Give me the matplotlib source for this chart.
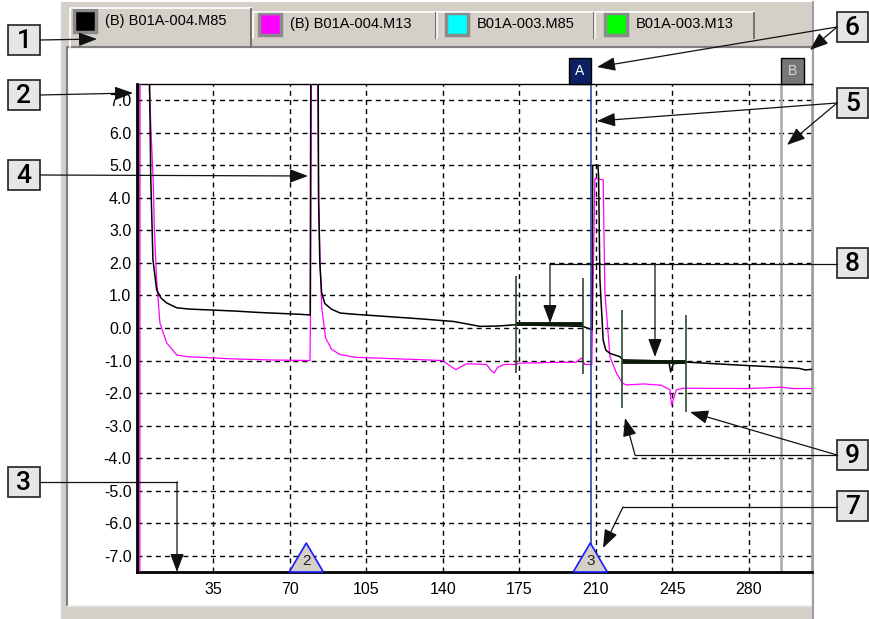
import numpy as np
import matplotlib
matplotlib.use('Agg')
import matplotlib.pyplot as plt
from matplotlib import font_manager as fm
from matplotlib.patches import Rectangle, Polygon

# trace data (x = position, y = value)
m85_x = [0, 0.6, 0.7, 5.5, 6.3, 7.3, 9.0, 11, 13.6, 18.2, 24.3, 35, 45, 55, 65, 75, 79.3,
         79.6, 82.9, 83.1, 83.7, 84.5, 86, 89, 93, 100, 115, 130, 145, 157, 165, 173.5,
         204.2, 206, 208.3, 208.6, 211.0, 211.3, 211.9, 213.4, 214.6, 216.5, 221, 222.5,
         235, 243.5, 244.3, 245.5, 252, 265, 275.5, 293, 303, 306, 309]
m85_y = [-9, -9, 9, 9, 4.6, 2.1, 1.17, 0.92, 0.77, 0.62, 0.58, 0.55, 0.52, 0.48, 0.45, 0.42, 0.4,
         9, 9, 4.0, 2.0, 1.1, 0.75, 0.58, 0.46, 0.42, 0.35, 0.28, 0.2, 0.05, 0.06, 0.1,
         0.05, 0.0, -0.05, 5.0, 5.0, 4.66, 1.5, -0.37, -0.68, -0.78, -0.88, -0.98,
         -1.0, -1.05, -1.35, -1.1, -1.05, -1.1, -1.14, -1.2, -1.24, -1.29, -1.27]

m13_x = [0, 1.3, 1.4, 4.6, 7.5, 7.9, 9.0, 10.5, 13.6, 18.2, 22.7, 44, 60, 79.2, 79.4, 79.9,
         82.5, 83.2, 83.8, 84.6, 86.3, 89, 93, 100, 120, 140, 143, 146, 148, 151, 160, 162,
         163.5, 165, 168, 173.5, 175, 190, 201, 203.5, 205, 208.2, 209.6, 213.4, 214.2,
         216.5, 219.5, 222.3, 224, 232, 240, 244.0, 244.7, 246.9, 250, 280, 295, 300, 309]
m13_y = [-9, -9, 9, 9, 4.35, 3.1, 1.48, 0.15, -0.46, -0.83, -0.88, -0.95, -0.98, -1.0, 0.25, 9,
         9, 4.0, 2.0, 0.6, -0.3, -0.65, -0.82, -0.9, -0.95, -1.0, -1.15, -1.28, -1.2, -1.1, -1.12, -1.3,
         -1.38, -1.22, -1.12, -1.12, -1.08, -1.06, -1.05, -0.92, -1.12, -1.12, 4.6, 4.55, 1.1,
         -0.88, -1.39, -1.7, -1.75, -1.72, -1.76, -1.9, -2.37, -1.9, -1.85, -1.86, -1.82, -1.86, -1.86]

# measurement regions (start, end, level) and their marker lines
region_start = [173.5, 222.2]
region_end = [204.2, 251.1]
region_level = [0.12, -1.03]
marker_x = [173.5, 204.2, 222.2, 251.1]
marker_low = [-1.38, -1.42, -2.46, -2.57]
marker_high = [1.6, 1.54, 0.55, 0.4]

cursor_a = 207.8
cursor_b = 295.0
event_x = [77.5, 207.5]
event_labels = ['2', '3']

x_ticks = [35, 70, 105, 140, 175, 210, 245, 280]
y_ticks = list(range(-7, 8))

tab_labels = ['(B) B01A-004.M85', '(B) B01A-004.M13', 'B01A-003.M85', 'B01A-003.M13']
tab_colors = ['#000000', '#ff00ff', '#00ffff', '#00ff00']

names = {f.name for f in fm.fontManager.ttflist}
ui_font = 'Liberation Sans'
num_font = 'Liberation Sans Narrow' if 'Liberation Sans Narrow' in names else 'Roboto'

W, H = 870, 619
fig = plt.figure(figsize=(W / 100, H / 100), dpi=100)

# window chrome (pixel coordinates)
bg = fig.add_axes([0, 0, 1, 1], zorder=0)
bg.set_xlim(0, W)
bg.set_ylim(H, 0)
bg.axis('off')
bg.add_patch(Rectangle((60, 2), 754, 617, fc='#d4d0c8', ec='none'))
bg.add_patch(Rectangle((68, 48), 744, 557, fc='white', ec='none'))
bg.plot([67, 67, 812], [605, 47, 47], color='#808080', lw=1.6)
bg.plot([68, 812, 812], [605.5, 605.5, 48], color='#f0f0f0', lw=1.2)
bg.plot([813, 813], [2, 619], color='#a0a0a0', lw=1.5)
bg.plot([60.5, 60.5], [2, 619], color='#f4f4f4', lw=1)

tab_x0 = [70, 253, 437, 595]
tab_x1 = [251, 436, 594, 754]
text_x = [105, 290, 477, 636]
for i, lab in enumerate(tab_labels):
    top = 8 if i == 0 else 12
    bot = 47 if i == 0 else 38
    bg.add_patch(Rectangle((tab_x0[i], top), tab_x1[i] - tab_x0[i], bot - top, fc='#d4d0c8', ec='none'))
    bg.plot([tab_x0[i], tab_x0[i], tab_x1[i]], [bot, top, top], color='white', lw=1.2)
    bg.plot([tab_x1[i], tab_x1[i]], [top + 1, bot], color='#707070', lw=1.4)
    sy = 10 if i == 0 else 13
    bg.add_patch(Rectangle((text_x[i] - 31, sy), 22, 22, fc=tab_colors[i], ec='#8a8a8a', lw=2.5))
    bg.text(text_x[i], sy + 11, lab, fontsize=10.5, family=ui_font, va='center', ha='left')

# main plot
ax = fig.add_axes([137 / W, (H - 572) / H, 675 / W, 488 / H], zorder=1)
ax.set_facecolor('white')
ax.set_xlim(0, 309)
ax.set_ylim(-7.5, 7.5)
ax.set_xticks(x_ticks)
ax.set_xticklabels([str(v) for v in x_ticks])
ax.set_yticks(y_ticks)
ax.set_yticklabels([f'{v:.1f}' for v in y_ticks])
ax.tick_params(length=0, labelsize=11.5)
ax.tick_params(axis='y', pad=4)
ax.tick_params(axis='x', pad=7)
for t in ax.get_xticklabels() + ax.get_yticklabels():
    t.set_fontfamily(ui_font)
ax.grid(True, color='black', linestyle=(0, (3.6, 3.0)), lw=1.0)
ax.set_axisbelow(True)
ax.spines['left'].set_linewidth(2)
ax.spines['bottom'].set_linewidth(2)
ax.spines['top'].set_linewidth(1)
ax.spines['right'].set_color('#a0a0a0')
ax.spines['right'].set_linewidth(2)

ax.plot(m13_x, m13_y, color='#ff00ff', lw=0.9, zorder=3)
ax.plot(m85_x, m85_y, color='black', lw=1.1, zorder=4)

for xs, xe, lv in zip(region_start, region_end, region_level):
    ax.plot([xs, xe], [lv, lv], color='#0b1c0b', lw=2.8, solid_capstyle='butt', zorder=5)
ax.vlines(marker_x, marker_low, marker_high, color='#2e4a2e', lw=1.2, zorder=5)

trans = ax.get_xaxis_transform()
tri_h = 29 / 488
ax.axvline(cursor_a, ymin=tri_h, ymax=1, color='#2f4c9c', lw=1.2, zorder=6)
ax.axvline(cursor_b, color='#a8a8a8', lw=1.8, zorder=2)

# cursor flags above the plot
box_h = 26 / 488
ax.add_patch(Rectangle((cursor_a - 10, 1.0), 10, box_h, transform=trans, fc='#0a2060',
                       ec='black', lw=1, clip_on=False, zorder=7))
ax.text(cursor_a - 5, 1.0 + box_h / 2, 'A', transform=trans, color='white', fontsize=10,
        family=ui_font, ha='center', va='center', clip_on=False, zorder=8)
ax.add_patch(Rectangle((cursor_b, 1.0), 10.3, box_h, transform=trans, fc='#777777',
                       ec='black', lw=1, clip_on=False, zorder=7))
ax.text(cursor_b + 5.15, 1.0 + box_h / 2, 'B', transform=trans, color='#d8d8d8', fontsize=10,
        family=ui_font, ha='center', va='center', clip_on=False, zorder=8)

# event triangles on the x axis
for ex, el in zip(event_x, event_labels):
    ax.add_patch(Polygon([(ex - 7.8, 0), (ex + 7.8, 0), (ex, tri_h)], closed=True, transform=trans,
                         fc='#d4d0c8', ec='#1a1aff', lw=1.2, zorder=7, clip_on=False))
    ax.text(ex, tri_h * 0.38, el, transform=trans, fontsize=11, family=ui_font, color='#222222',
            ha='center', va='center', zorder=8)

# callouts (pixel coordinates)
ov = fig.add_axes([0, 0, 1, 1], zorder=5)
ov.set_xlim(0, W)
ov.set_ylim(H, 0)
ov.axis('off')
ov.patch.set_alpha(0)

callout_num = ['1', '2', '4', '3', '6', '5', '8', '9', '7']
callout_x = [8, 8, 8, 8, 837, 837, 837, 837, 837]
callout_y = [25, 80, 160, 467, 12, 88, 248, 440, 491]
for n, bx, by in zip(callout_num, callout_x, callout_y):
    bw = 32 if bx < 100 else 31
    ov.add_patch(Rectangle((bx, by), bw, 30, fc='#e6e6e6', ec='#202020', lw=1.2))
    ov.text(bx + bw / 2, by + 16, n, fontsize=19, family=num_font, weight='medium',
            ha='center', va='center')

leaders = [
    [(40, 40), (97, 39)],
    [(40, 95), (133, 93)],
    [(40, 175), (308, 176)],
    [(40, 482), (177, 482), (177, 572)],
    [(837, 27), (597, 67)],
    [(837, 27), (810, 50)],
    [(837, 103), (597, 121)],
    [(837, 103), (787, 145)],
    [(837, 264), (550, 264), (550, 323)],
    [(655, 264), (655, 357)],
    [(837, 455), (635, 455), (625, 418)],
    [(837, 455), (690, 412)],
    [(837, 507), (623, 507), (603, 548)],
]
for pts in leaders:
    if len(pts) > 2:
        ov.plot([p[0] for p in pts[:-1]], [p[1] for p in pts[:-1]], color='#111111', lw=0.9)
    ov.annotate('', xy=pts[-1], xytext=pts[-2],
                arrowprops=dict(arrowstyle='-|>,head_length=0.8,head_width=0.3', mutation_scale=14,
                                lw=0.9, color='#111111', shrinkA=0, shrinkB=0))

fig.savefig('out.png', dpi=100)
